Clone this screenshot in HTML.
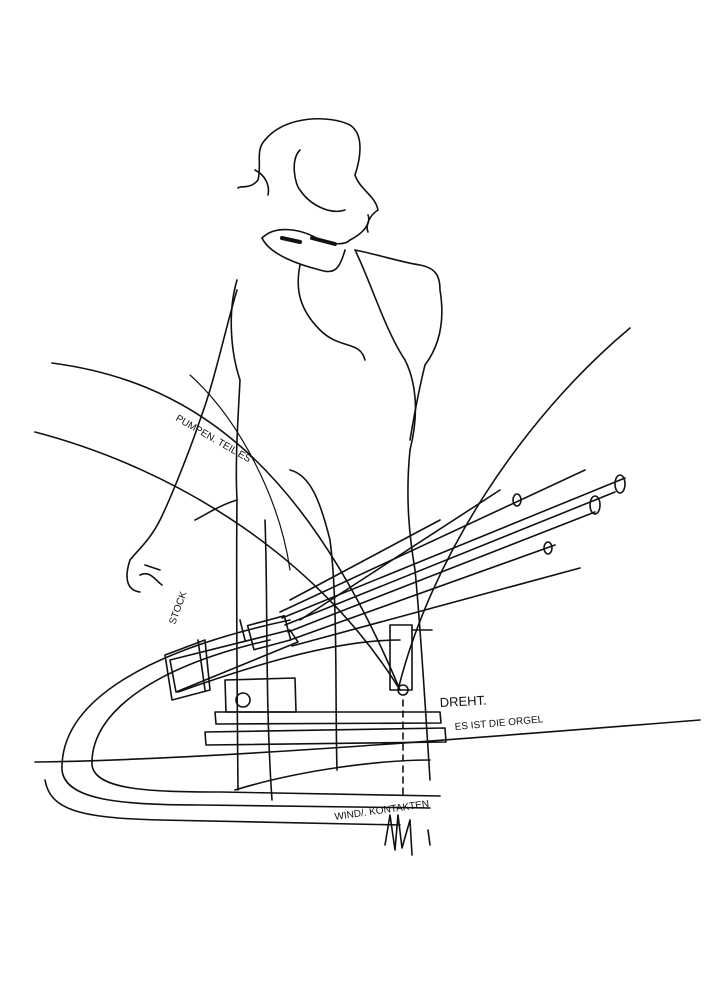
<!DOCTYPE html>
<html><head><meta charset="utf-8"><style>
html,body{margin:0;padding:0;background:#fff;}
svg{display:block}
text{font-family:"Liberation Sans",sans-serif;fill:#111;}
</style></head><body>
<svg width="704" height="1000" viewBox="0 0 704 1000" xmlns="http://www.w3.org/2000/svg">
<g fill="none" stroke="#111" stroke-width="1.6" stroke-linecap="round" stroke-linejoin="round">
<!-- head / hair -->
<path d="M265,140 C285,115 330,115 350,125 C365,135 360,160 355,175"/>
<path d="M265,140 C255,150 262,165 258,180 C250,190 240,185 238,188"/>
<path d="M300,150 C290,160 295,185 300,190 C310,205 330,215 345,210"/>
<path d="M355,175 C360,190 375,195 378,210 C370,215 365,225 368,232"/>
<path d="M255,170 C265,175 270,185 268,195"/>
<!-- hand at chin -->
<path d="M262,238 C275,225 300,228 320,240 C335,245 345,245 350,240"/>
<path d="M262,238 C270,255 300,265 320,270 C335,275 340,268 345,250"/>
<path d="M350,240 C360,235 372,225 368,215"/>
<path d="M282,238 L300,242 M312,238 L335,244" stroke-width="4"/>
<!-- shoulders & arms -->
<path d="M300,265 C295,290 300,310 320,330 C340,350 360,340 365,360"/>
<path d="M355,250 C380,255 400,262 420,265 C435,268 440,275 440,290 C445,320 440,345 425,365 C420,385 415,410 410,440"/>
<path d="M355,250 C370,280 385,330 405,360 C415,380 420,410 410,450"/>
<path d="M237,280 C228,310 230,350 240,380 C238,420 235,460 237,500 C236,580 237,680 238,790"/>
<path d="M237,290 C225,330 215,380 200,420 C190,450 170,500 160,520 C150,540 138,550 130,560 C125,575 125,590 140,592"/>
<path d="M140,575 C150,570 155,580 162,585 M145,565 L160,570"/>
<path d="M410,450 C405,500 410,540 415,570 C420,620 425,700 430,780"/>
<path d="M237,500 C220,505 205,515 195,520"/>
<path d="M290,470 C310,475 320,500 330,540 C338,600 335,700 337,770"/>
<path d="M265,520 C268,600 265,700 272,800"/>
<!-- long arcs -->
<path d="M52,363 C180,380 300,450 400,690"/>
<path d="M35,432 C180,470 320,560 400,690"/>
<path d="M630,328 C520,420 430,560 398,690"/>
<path d="M190,375 C240,420 280,500 290,570" stroke-width="1.2"/>
<!-- pipes -->
<path d="M280,612 L585,470 M282,618 L625,478 M285,625 L615,492 M288,632 L595,512 M290,640 L555,545 M292,646 L580,568"/>
<path d="M290,600 L440,520 M300,620 L500,490"/>
<ellipse cx="620" cy="484" rx="5" ry="9"/>
<ellipse cx="595" cy="505" rx="5" ry="9"/>
<ellipse cx="517" cy="500" rx="4" ry="6"/>
<ellipse cx="548" cy="548" rx="4" ry="6"/>
<!-- windchest -->
<path d="M170,660 L290,630 L298,642 L176,692 Z"/>
<path d="M165,655 L205,640 L210,690 L172,700 Z"/>
<path d="M240,620 L245,640 M198,640 L205,690"/>
<rect x="250" y="620" width="38" height="25" transform="rotate(-15 270 632)"/>
<path d="M178,692 C240,670 330,640 400,640"/>
<path d="M225,680 L295,678 L296,712 L226,712 Z"/>
<circle cx="243" cy="700" r="7"/>
<path d="M390,625 L412,625 L412,690 L390,690 Z"/>
<circle cx="403" cy="690" r="5"/>
<path d="M412,630 L432,630"/>
<!-- base plates -->
<path d="M215,712 L440,712 L441,723 L216,724 Z"/>
<path d="M205,732 L445,728 L446,742 L206,745 Z"/>
<!-- sweeping curves -->
<path d="M290,620 C150,650 60,700 62,770 C65,800 120,805 200,805 L430,808"/>
<path d="M270,640 C160,665 90,710 92,765 C95,790 150,792 220,792 L440,796"/>
<path d="M45,780 C50,810 80,818 160,820 L400,825"/>
<path d="M35,762 C200,760 450,740 700,720"/>
<path d="M235,790 C300,770 380,760 430,760"/>
<!-- dashed vertical -->
<path d="M403,700 L403,795" stroke-dasharray="6,5"/>
<path d="M385,845 L390,815 L395,850 L398,815 L402,848 L410,820 L412,855"/>
<path d="M430,845 L428,830"/>
</g>
<text x="440" y="707" font-size="13" transform="rotate(-3 440 707)">DREHT.</text>
<text x="455" y="730" font-size="10" transform="rotate(-5 455 730)">ES IST DIE ORGEL</text>
<text x="335" y="820" font-size="10" transform="rotate(-8 335 820)">WIND/. KONTAKTEN</text>
<text x="175" y="625" font-size="10" transform="rotate(-70 175 625)">STOCK</text>
<text x="175" y="420" font-size="10" transform="rotate(30 175 420)">PUMPEN. TEIL ES</text>
</svg>
</body></html>
